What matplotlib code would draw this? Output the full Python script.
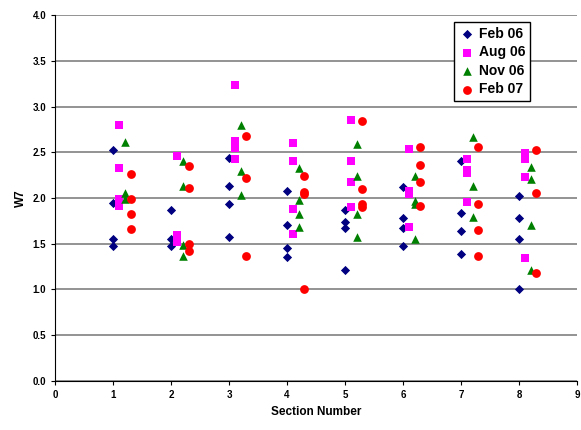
import numpy as np
import matplotlib.pyplot as plt

plt.rcParams['font.family'] = ['Liberation Sans', 'DejaVu Sans']

# W7 values per section (sections 1..8)
feb06 = [
    [2.53, 1.95, 1.55, 1.48],
    [1.87, 1.55, 1.48],
    [2.44, 2.13, 1.94, 1.57],
    [2.08, 1.71, 1.45, 1.36],
    [1.87, 1.74, 1.67, 1.21],
    [2.12, 1.78, 1.67, 1.48],
    [2.41, 1.84, 1.64, 1.39],
    [2.02, 1.78, 1.55, 1.01],
]
aug06 = [
    [2.80, 2.33, 1.99, 1.91],
    [2.46, 1.60, 1.52],
    [3.23, 2.62, 2.55, 2.43],
    [2.60, 2.41, 1.88, 1.61],
    [2.85, 2.41, 2.18, 1.90],
    [2.54, 2.08, 2.04, 1.68],
    [2.43, 2.31, 2.27, 1.96],
    [2.49, 2.43, 2.23, 1.34],
]
nov06 = [
    [2.61, 2.05, 1.99],
    [2.40, 2.13, 1.49, 1.37],
    [2.80, 2.29, 2.03],
    [2.33, 1.98, 1.83, 1.68],
    [2.59, 2.24, 1.83, 1.57],
    [2.24, 1.97, 1.93, 1.55],
    [2.67, 2.13, 1.79],
    [2.34, 2.21, 1.71, 1.21],
]
feb07 = [
    [2.26, 1.99, 1.82, 1.66],
    [2.35, 2.11, 1.50, 1.42],
    [2.68, 2.22, 1.37],
    [2.24, 2.07, 2.04, 1.00],
    [2.84, 2.10, 1.93, 1.90],
    [2.56, 2.36, 2.18, 1.91],
    [2.56, 1.93, 1.65, 1.37],
    [2.52, 2.05, 1.18],
]

series = [
    ('Feb 06', feb06, 'D', '#000080', 0.0, 22),
    ('Aug 06', aug06, 's', '#FF00FF', 0.1, 38),
    ('Nov 06', nov06, '^', '#008000', 0.2, 38),
    ('Feb 07', feb07, 'o', '#FF0000', 0.3, 40),
]

fig = plt.figure(figsize=(5.81, 4.30), dpi=100)
ax = fig.add_axes([0.095, 0.114, 0.898, 0.851])

for name, data, marker, color, offset, size in series:
    xs = []
    ys = []
    for i, vals in enumerate(data):
        for v in vals:
            xs.append(i + 1 + offset)
            ys.append(v)
    ax.scatter(xs, ys, marker=marker, s=size, color=color, label=name,
               linewidths=0, zorder=3)

ax.set_xlim(0, 9)
ax.set_ylim(0, 4)
ax.set_xticks(range(0, 10))
ax.set_yticks(np.arange(0, 4.01, 0.5))
ax.set_yticklabels(['%.1f' % v for v in np.arange(0, 4.01, 0.5)])
ax.yaxis.grid(True, color='#808080', linewidth=1.2)
ax.set_axisbelow(True)
ax.spines['top'].set_visible(False)
ax.spines['right'].set_visible(False)
ax.tick_params(axis='both', labelsize=7, length=3, direction='out')
for lbl in ax.get_xticklabels() + ax.get_yticklabels():
    lbl.set_fontweight('bold')

ax.set_xlabel('Section Number', fontsize=8.5, fontweight='bold')
ax.set_ylabel('W7', fontsize=8.5, fontweight='bold')

leg = ax.legend(loc='upper right', bbox_to_anchor=(0.91, 0.981), fancybox=False,
                edgecolor='black', framealpha=1, handletextpad=0.3,
                borderpad=0.35, labelspacing=0.32, handlelength=1.1,
                borderaxespad=0, prop={'weight': 'bold', 'size': 10})
leg.get_frame().set_linewidth(1.0)

fig.savefig('out.png', dpi=100)
